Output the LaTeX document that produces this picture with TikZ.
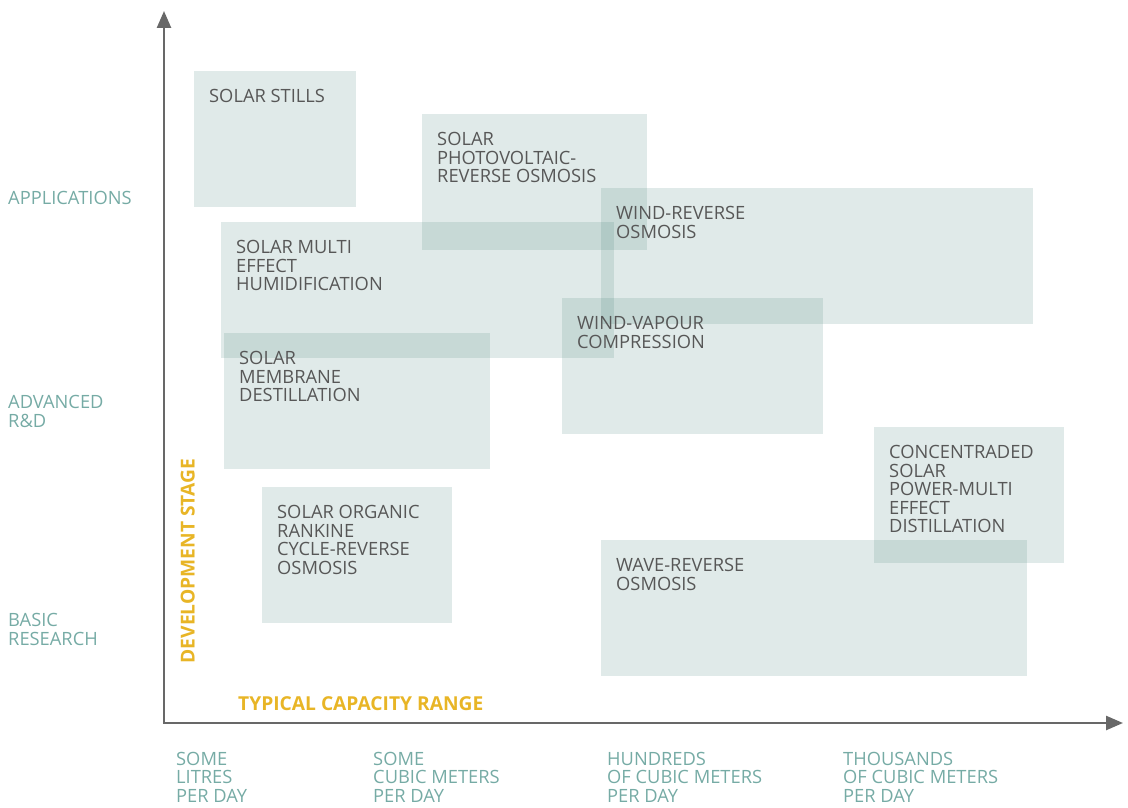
\documentclass[tikz,border=0pt]{standalone}
\usepackage{fontspec}
\setmainfont{Open Sans}
\usetikzlibrary{arrows.meta,calc}

\definecolor{boxteal}{HTML}{49837A}
\definecolor{axisgray}{HTML}{686868}
\definecolor{textgray}{HTML}{575757}
\definecolor{stageteal}{HTML}{76ABA5}
\definecolor{rangeyellow}{HTML}{E8B526}

% name/left/top/width/label (pixel grid, y downwards)
\def\boxlist{
	stills/194/71/162/{SOLAR STILLS},
	pvro/422/114/225/{SOLAR\\PHOTOVOLTAIC-\\REVERSE OSMOSIS},
	windro/601/188/432/{WIND-REVERSE\\OSMOSIS},
	mehum/221/222/393/{SOLAR MULTI\\EFFECT\\HUMIDIFICATION},
	windvc/562/298/261/{WIND-VAPOUR\\COMPRESSION},
	memdist/224/333/266/{SOLAR\\MEMBRANE\\DESTILLATION},
	cspmed/874/427/190/{CONCENTRADED\\SOLAR\\POWER-MULTI\\EFFECT\\DISTILLATION},
	orcro/262/487/190/{SOLAR ORGANIC\\RANKINE\\CYCLE-REVERSE\\OSMOSIS},
	wavero/601/540/426/{WAVE-REVERSE\\OSMOSIS}}

\begin{document}
\begin{tikzpicture}[x=1pt, y=-1pt,
		axis/.style={-{Triangle[length=17pt, width=14pt]}, line width=2.5pt, axisgray},
		techbox/.style={fill=boxteal, fill opacity=0.17, draw=none, inner sep=0pt,
			minimum height=136pt, anchor=north west},
		techlabel/.style={text=textgray, align=left, inner sep=0pt, anchor=north west,
			font=\fontsize{18.3}{18.5}\selectfont},
		stagelabel/.style={text=stageteal, align=left, inner sep=0pt, anchor=north west,
			font=\fontsize{18.3}{18.5}\selectfont},
		titlelabel/.style={text=rangeyellow, inner sep=0pt,
			font=\fontsize{19.2}{19.5}\selectfont\bfseries}]
	
	\useasboundingbox (0,0) rectangle (1128,808);
	
	% ---------- Axes ----------
	\coordinate (origin) at (164,723);
	\coordinate (ytop) at (164,11);
	\coordinate (xend) at (1123,723);
	\draw[axis] (origin) -- (ytop);
	\draw[axis] ($(origin)+(-1.25,0)$) -- (xend);
	
	% ---------- Technology boxes ----------
	\foreach \nm/\bx/\by/\bw/\lbl in \boxlist{
		\node[techbox, minimum width=\bw pt] (\nm) at (\bx,\by) {};
	}
	\foreach \nm/\bx/\by/\bw/\lbl in \boxlist{
		\node[techlabel] (\nm-txt) at ($(\nm.north west)+(15,18.5)$) {\lbl};
	}
	
	% ---------- Development stages ----------
	\node[stagelabel] (app) at (8,191.5) {APPLICATIONS};
	\node[stagelabel] (ard) at (8,395.5) {ADVANCED\\R\&D};
	\node[stagelabel] (bres) at (8,613.5) {BASIC\\RESEARCH};
	
	% ---------- Capacity ranges ----------
	\node[stagelabel] (litres) at (176,752) {SOME\\LITRES\\PER DAY};
	\node[stagelabel] (cubic) at (373,752) {SOME\\CUBIC METERS\\PER DAY};
	\node[stagelabel] (hundreds) at (607,752) {HUNDREDS\\OF CUBIC METERS\\PER DAY};
	\node[stagelabel] (thousands) at (843,752) {THOUSANDS\\OF CUBIC METERS\\PER DAY};
	
	% ---------- Axis titles ----------
	\node[titlelabel, rotate=90, anchor=north west] (ytitle) at (180.5,663.5) {DEVELOPMENT STAGE};
	\node[titlelabel, anchor=north west] (xtitle) at (238,696.5) {TYPICAL CAPACITY RANGE};
	
\end{tikzpicture}
\end{document}
